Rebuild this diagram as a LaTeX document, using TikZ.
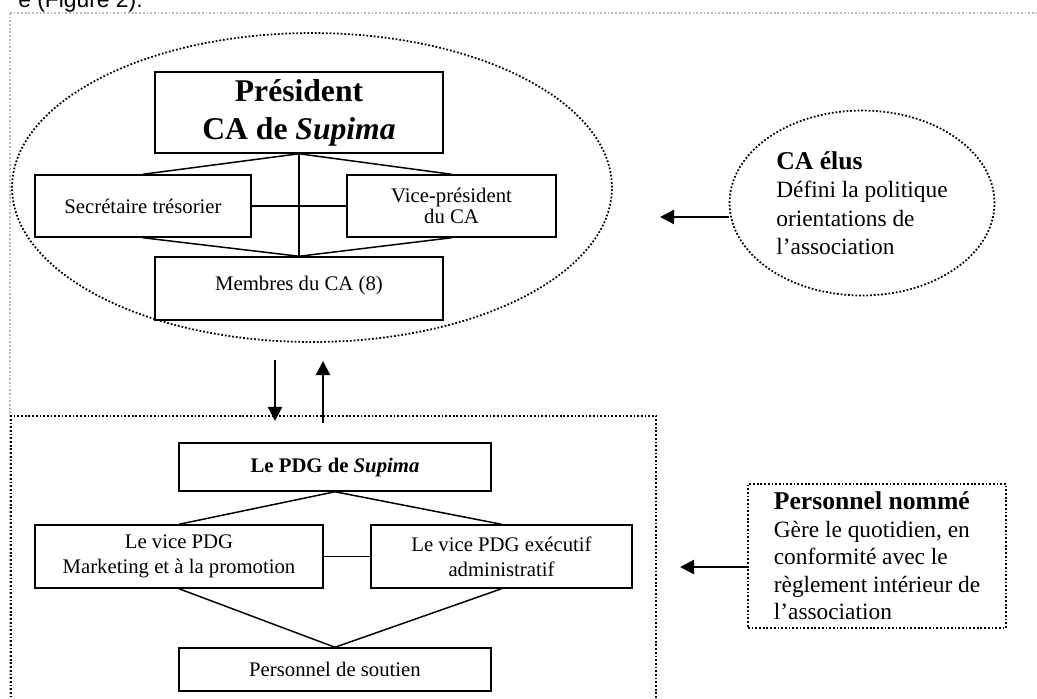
\documentclass[tikz,border=0pt]{standalone}
\usepackage{fontspec}
\setmainfont{Liberation Serif}
\newfontfamily\capfont{Liberation Sans}
\usetikzlibrary{shapes.geometric,arrows.meta}

\begin{document}
\begin{tikzpicture}[x=0.02cm, y=-0.02cm,
    box/.style={draw, line width=0.85pt, align=center, inner sep=2pt, font=\fontsize{11.8}{14.2}\selectfont},
    link/.style={line width=0.85pt},
    dots/.style={line width=1pt, dash pattern=on 1pt off 1.1pt},
    arr/.style={line width=1.3pt, -{Triangle[length=8pt,width=8pt]}}]
    \useasboundingbox (0,0) rectangle (1037,698);

    % cadre de la page
    \node[anchor=base east, inner sep=0, font=\capfont\fontsize{13}{15}\selectfont] (fig) at (143,7) {e (Figure 2).};
    \draw[gray!55, dots] (10,13) -- (1037,13);
    \draw[gray!55, dots] (10,13) -- (10,698);

    % conseil d'administration
    \node[draw, dots, ellipse, minimum width=12cm, minimum height=6.18cm, inner sep=0] (caell) at (312,187.5) {};
    \node[box, minimum width=5.76cm, minimum height=1.62cm, font=\fontsize{18}{21.5}\selectfont\bfseries] (pres) at (299,112.5) {Président\\CA de \textit{Supima}};
    \node[box, minimum width=4.32cm, minimum height=1.24cm] (sec) at (143,206) {Secrétaire trésorier};
    \node[box, minimum width=4.18cm, minimum height=1.24cm, font=\fontsize{11.8}{10.5}\selectfont] (vp) at (451.5,206) {Vice-président\\du CA};
    \node[box, minimum width=5.76cm, minimum height=1.26cm] (memb) at (299,288.5) {Membres du CA (8)\\[-8pt]\mbox{}};

    \draw[link] (pres.south) -- (sec.north);
    \draw[link] (pres.south) -- (vp.north);
    \draw[link] (pres.south) -- (memb.north);
    \draw[link] (sec.east) -- (vp.west);
    \draw[link] (sec.south) -- (memb.north);
    \draw[link] (vp.south) -- (memb.north);

    \node[draw, dots, ellipse, minimum width=5.3cm, minimum height=3.7cm, inner sep=0, align=left,
          font=\fontsize{13.3}{16.2}\selectfont] (elus) at (862,203)
          {{\fontsize{14.6}{16.2}\selectfont\bfseries CA élus}\\Défini la politique\\orientations de\\l’association};
    \coordinate (elustip) at (660,217);
    \draw[arr] (elus.west |- elustip) -- (elustip);

    % liens entre CA et direction
    \coordinate (dnA) at (275,360);
    \coordinate (dnB) at (275,421);
    \coordinate (upA) at (323,423);
    \coordinate (upB) at (323,361);
    \draw[arr] (dnA) -- (dnB);
    \draw[arr] (upA) -- (upB);

    % direction
    \draw[dots] (656,720) -- (656,416) -- (11,416) -- (11,720);
    \node[box, minimum width=6.24cm, minimum height=0.96cm, font=\fontsize{11.8}{14}\selectfont\bfseries] (pdg) at (335,467) {Le PDG de \textit{Supima}};
    \node[box, minimum width=5.76cm, minimum height=1.26cm] (vmk) at (179,556.5) {Le vice PDG\\Marketing et à la promotion};
    \node[box, minimum width=5.22cm, minimum height=1.26cm] (vex) at (501.5,556.5) {Le vice PDG exécutif\\administratif};
    \node[box, minimum width=6.24cm, minimum height=0.86cm] (sout) at (335,669.5) {Personnel de soutien};

    \draw[link] (pdg.south) -- (vmk.north);
    \draw[link] (pdg.south) -- (vex.north);
    \draw[link] (vmk.east) -- (vex.west);
    \draw[link] (vmk.south) -- (sout.north);
    \draw[link] (vex.south) -- (sout.north);

    \node[draw, dots, minimum width=5.16cm, minimum height=2.88cm, inner sep=0, align=left,
          font=\fontsize{13.3}{15.6}\selectfont] (nom) at (877,556)
          {{\fontsize{14.6}{15.6}\selectfont\bfseries Personnel nommé}\\Gère le quotidien, en\\conformité avec le\\règlement intérieur de\\l’association};
    \coordinate (nomtip) at (680,567);
    \draw[arr] (nom.west |- nomtip) -- (nomtip);

\end{tikzpicture}
\end{document}
